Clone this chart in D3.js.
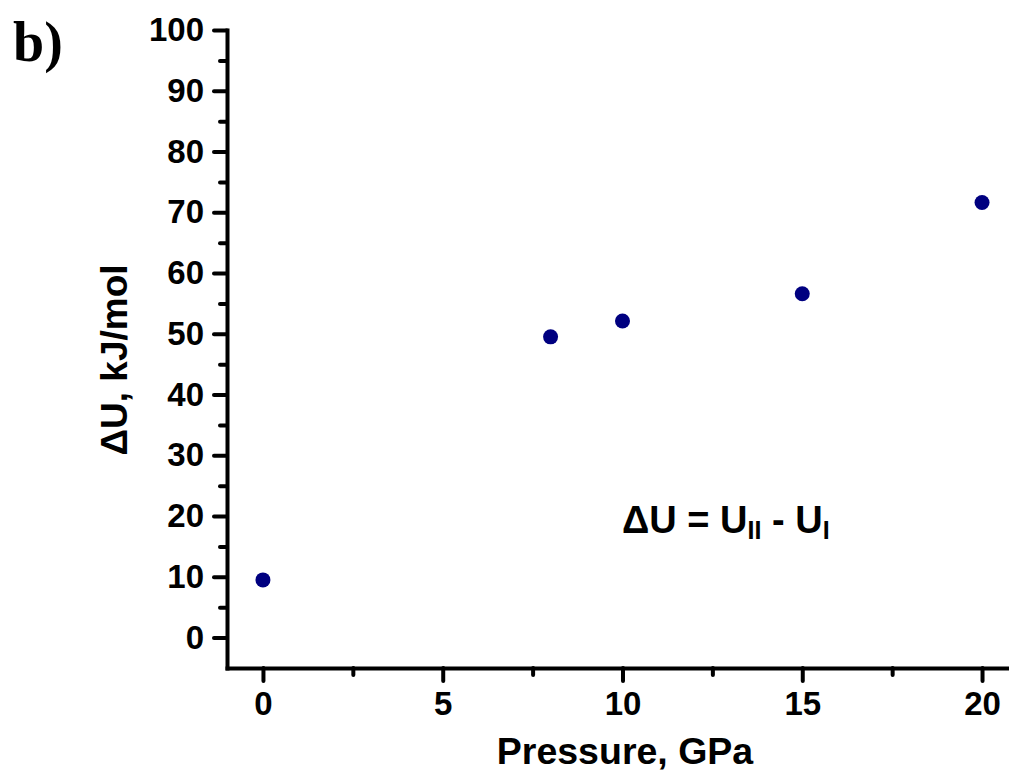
<!DOCTYPE html>
<html>
<head>
<meta charset="utf-8">
<script src="https://cdn.jsdelivr.net/npm/d3@7"></script>
<style>
  html, body { margin: 0; padding: 0; background: #ffffff; }
  svg { display: block; }
</style>
</head>
<body>
<svg id="chart" width="1009" height="776"></svg>
<script>
// ---- data ----
const pressure = [0, 8, 10, 15, 20];          // GPa
const deltaU   = [9.5, 49.5, 52.1, 56.6, 71.6]; // kJ/mol
const xMajorTicks = [0, 5, 10, 15, 20];
const xMinorTicks = [2.5, 7.5, 12.5, 17.5];
const yMajorTicks = [0, 10, 20, 30, 40, 50, 60, 70, 80, 90, 100];
const yMinorTicks = [5, 15, 25, 35, 45, 55, 65, 75, 85, 95];
const xTitle = "Pressure, GPa";
const yTitle = "\u0394U, kJ/mol";
const panelLabel = "b)";

const svg = d3.select("#chart");
const font = "'Liberation Sans', Arial, sans-serif";

const x = d3.scaleLinear().domain([-1, 20.75]).range([227, 1009]);
const y = d3.scaleLinear().domain([-5, 100]).range([668, 30]);

const axisStroke = 4;

// minor ticks
const gx = svg.append("g").attr("transform", `translate(0,${y(-5)})`);
gx.call(d3.axisBottom(x).tickValues(xMinorTicks).tickSize(7).tickSizeOuter(0).tickFormat(""));
gx.call(g => g.select(".domain").remove());
const gx2 = svg.append("g").attr("transform", `translate(0,${y(-5)})`);
gx2.call(d3.axisBottom(x).tickValues(xMajorTicks).tickSize(13).tickSizeOuter(0).tickPadding(11).tickFormat(d3.format("d")));

const gy = svg.append("g").attr("transform", `translate(${x(-1)},0)`);
gy.call(d3.axisLeft(y).tickValues(yMinorTicks).tickSize(7).tickSizeOuter(0).tickFormat(""));
gy.call(g => g.select(".domain").remove());
const gy2 = svg.append("g").attr("transform", `translate(${x(-1)},0)`);
gy2.call(d3.axisLeft(y).tickValues(yMajorTicks).tickSize(13).tickSizeOuter(0).tickPadding(10).tickFormat(d3.format("d")));

svg.selectAll(".domain").attr("stroke", "#000").attr("stroke-width", axisStroke).attr("stroke-linecap", "square");
svg.selectAll(".tick line").attr("stroke", "#000").attr("stroke-width", axisStroke).attr("stroke-linecap", "round");
svg.selectAll(".tick text")
  .attr("font-family", font).attr("font-weight", "bold").attr("font-size", 33).attr("fill", "#000");

// points
svg.append("g").selectAll("circle")
  .data(pressure.map((p, i) => ({p, u: deltaU[i]})))
  .join("circle")
  .attr("cx", d => x(d.p))
  .attr("cy", d => y(d.u))
  .attr("r", 7.5)
  .attr("fill", "#000080");

// axis titles
svg.append("text")
  .attr("x", 625).attr("y", 764)
  .attr("text-anchor", "middle")
  .attr("font-family", font).attr("font-weight", "bold").attr("font-size", 37.5)
  .text(xTitle);

svg.append("text")
  .attr("transform", `translate(127,360) rotate(-90)`)
  .attr("text-anchor", "middle")
  .attr("font-family", font).attr("font-weight", "bold").attr("font-size", 37)
  .text(yTitle);

// annotation
const ann = svg.append("text")
  .attr("x", 622).attr("y", 533)
  .attr("font-family", font).attr("font-weight", "bold").attr("font-size", 38);
ann.append("tspan").text("\u0394U = U");
ann.append("tspan").attr("font-size", 25).attr("dy", 6).text("II");
ann.append("tspan").attr("dy", -6).text(" - U");
ann.append("tspan").attr("font-size", 25).attr("dy", 6).text("I");

// panel label
svg.append("text")
  .attr("x", 13).attr("y", 61)
  .attr("font-family", "'Liberation Serif', 'Times New Roman', serif")
  .attr("font-weight", "bold").attr("font-size", 56)
  .text(panelLabel);
</script>
</body>
</html>
